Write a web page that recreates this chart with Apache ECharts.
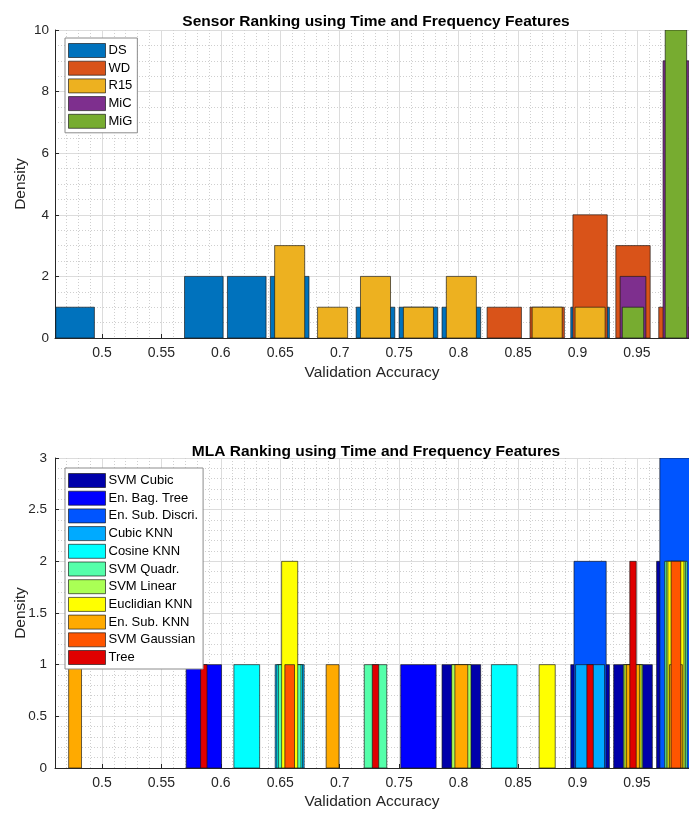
<!DOCTYPE html>
<html>
<head>
<meta charset="utf-8">
<script src="https://cdn.jsdelivr.net/npm/echarts@6/dist/echarts.min.js"></script>
<style>
html,body{margin:0;padding:0;background:#fff;}
#chart{width:689px;height:814px;}
</style>
</head>
<body>
<div id="chart"></div>
<script>
// ---- shared histogram bins (bin centres) ----
const binCenters = [0.4774, 0.5135, 0.5496, 0.5857, 0.6218, 0.6579, 0.6940, 0.7301, 0.7662, 0.8023, 0.8384, 0.8745, 0.9106, 0.9467, 0.9828];
const binWidth = 0.0361;

// ---- top chart: sensors ----
const topTitle = 'Sensor Ranking using Time and Frequency Features';
const sensorNames = ['DS', 'WD', 'R15', 'MiC', 'MiG'];
const dsCounts  = [1,0,0,2,2,2,0,1,1,1,0,0,1,0,0];
const wdCounts  = [0,0,0,0,0,0,0,0,0,0,1,1,4,3,1];
const r15Counts = [0,0,0,0,0,3,1,2,1,2,0,1,1,0,0];
const micCounts = [0,0,0,0,0,0,0,0,0,0,0,0,0,2,9];
const migCounts = [0,0,0,0,0,0,0,0,0,0,0,0,0,1,10];
const topYTicks = [0, 2, 4, 6, 8, 10];

// ---- bottom chart: machine learning algorithms ----
const bottomTitle = 'MLA Ranking using Time and Frequency Features';
const algoNames = ['SVM Cubic', 'En. Bag. Tree', 'En. Sub. Discri.', 'Cubic KNN', 'Cosine KNN', 'SVM Quadr.', 'SVM Linear', 'Euclidian KNN', 'En. Sub. KNN', 'SVM Gaussian', 'Tree'];
const svmCubicCounts     = [0,0,0,0,0,0,0,0,0,1,0,0,1,1,2];
const enBagTreeCounts    = [0,0,0,1,0,0,0,0,1,0,0,0,0,0,0];
const enSubDiscriCounts  = [0,0,0,0,0,0,0,0,0,0,0,0,2,0,3];
const cubicKnnCounts     = [0,0,0,0,0,1,0,0,0,0,0,0,1,0,0];
const cosineKnnCounts    = [0,0,0,0,1,1,0,0,0,0,1,0,0,0,0];
const svmQuadrCounts     = [0,0,0,0,0,1,0,1,0,0,0,0,0,0,2];
const svmLinearCounts    = [0,0,0,0,0,0,0,0,0,1,0,0,0,1,2];
const euclidianKnnCounts = [0,0,0,0,0,2,0,0,0,0,0,1,0,1,2];
const enSubKnnCounts     = [1,0,0,0,0,0,1,0,0,1,0,0,0,1,1];
const svmGaussianCounts  = [0,0,0,0,0,1,0,0,0,0,0,0,0,0,2];
const treeCounts         = [0,0,0,1,0,0,0,1,0,0,0,0,1,2,0];
const bottomYTicks = [0, 0.5, 1, 1.5, 2, 2.5, 3];

const xTickLabels = [0.5, 0.55, 0.6, 0.65, 0.7, 0.75, 0.8, 0.85, 0.9, 0.95];

// ---- styling ----
const sensorColors = ['#0072BD', '#D95319', '#EDB120', '#7E2F8E', '#77AC30'];
const algoColors = ['#0000AA', '#0000FF', '#0055FF', '#00AAFF', '#00FFFF', '#55FFAA', '#AAFF55', '#FFFF00', '#FFAA00', '#FF5500', '#E00000'];
const EDGE = 'rgba(20,20,20,0.65)';
const FONT = '"Liberation Sans", Arial, Helvetica, sans-serif';
const AX = '#262626';

function barSeries(name, color, counts, frac, idx) {
  const data = [];
  counts.forEach((c, i) => { if (c > 0) data.push([binCenters[i], c]); });
  return {
    type: 'custom', name: name, xAxisIndex: idx, yAxisIndex: idx,
    data: data, clip: true, encode: { x: 0, y: 1 },
    itemStyle: { color: color, borderColor: EDGE, borderWidth: 1 },
    renderItem: function (params, api) {
      const x = api.value(0), h = api.value(1);
      const half = frac * binWidth / 2;
      const p0 = api.coord([x - half, h]);
      const p1 = api.coord([x + half, 0]);
      return {
        type: 'rect',
        shape: { x: p0[0], y: p0[1], width: p1[0] - p0[0], height: p1[1] - p0[1] },
        style: { fill: color, stroke: EDGE, lineWidth: 1 }
      };
    }
  };
}

const sensorCounts = [dsCounts, wdCounts, r15Counts, micCounts, migCounts];
const algoCounts = [svmCubicCounts, enBagTreeCounts, enSubDiscriCounts, cubicKnnCounts, cosineKnnCounts, svmQuadrCounts, svmLinearCounts, euclidianKnnCounts, enSubKnnCounts, svmGaussianCounts, treeCounts];

const series = [];
sensorNames.forEach((n, i) => series.push(barSeries(n, sensorColors[i], sensorCounts[i], 0.9 - 0.1 * i, 0)));
algoNames.forEach((n, i) => series.push(barSeries(n, algoColors[i], algoCounts[i], 0.9 - 0.075 * i, 1)));

function xAxisCfg(gridIndex, nameGap) {
  return {
    type: 'value', gridIndex: gridIndex, min: 0.4605, max: 0.9938,
    splitNumber: 10, minInterval: 0.05, maxInterval: 0.05,
    name: 'Validation Accuracy', nameLocation: 'middle', nameGap: nameGap,
    nameTextStyle: { fontFamily: FONT, fontSize: 15.5, color: AX },
    axisLine: { show: true, onZero: false, lineStyle: { color: AX, width: 1 } },
    axisTick: { show: true, inside: true, length: 4, lineStyle: { color: AX } },
    axisLabel: {
      showMinLabel: false, showMaxLabel: false, margin: 8,
      fontFamily: FONT, fontSize: 14, color: AX,
      formatter: function (v) {
        const r = Math.round(v * 100) / 100;
        return xTickLabels.indexOf(r) >= 0 ? String(r) : '';
      }
    },
    splitLine: { show: true, lineStyle: { color: '#dcdcdc', width: 1 } },
    minorTick: { show: false, splitNumber: 5 },
    minorSplitLine: { show: true, lineStyle: { color: '#cfcfcf', width: 1, type: [1, 2] } }
  };
}
function yAxisCfg(gridIndex, ticks, minorSplit, margin) {
  return {
    type: 'value', gridIndex: gridIndex, min: ticks[0], max: ticks[ticks.length - 1],
    interval: ticks[1] - ticks[0],
    name: 'Density', nameLocation: 'middle', nameGap: 26, nameMoveOverlap: false,
    nameTextStyle: { fontFamily: FONT, fontSize: 15.5, color: AX },
    axisLine: { show: true, lineStyle: { color: AX, width: 1 } },
    axisTick: { show: true, inside: true, length: 4, lineStyle: { color: AX } },
    axisLabel: { margin: margin, fontFamily: FONT, fontSize: 13.5, color: AX },
    splitLine: { show: true, lineStyle: { color: '#dcdcdc', width: 1 } },
    minorTick: { show: false, splitNumber: minorSplit },
    minorSplitLine: { show: true, lineStyle: { color: '#cfcfcf', width: 1, type: [1, 2] } }
  };
}

function legendCfg(names, top) {
  return {
    data: names, orient: 'vertical', left: 65, top: top,
    icon: 'rect', itemWidth: 37, itemHeight: 14, itemGap: 2.7,
    selectedMode: false, backgroundColor: '#ffffff',
    borderColor: '#8c8c8c', borderWidth: 1, padding: [5, 5, 4, 3],
    textStyle: { fontFamily: FONT, fontSize: 13, color: '#000', padding: [0, 0, 0, -2] },
    itemStyle: { borderColor: EDGE, borderWidth: 1 },
    z: 10
  };
}

const option = {
  animation: false,
  backgroundColor: '#ffffff',
  title: [
    { text: topTitle, left: 371, top: 9, textAlign: 'center',
      textStyle: { fontFamily: FONT, fontSize: 15.5, fontWeight: 'bold', color: '#000' } },
    { text: bottomTitle, left: 371, top: 439, textAlign: 'center',
      textStyle: { fontFamily: FONT, fontSize: 15.5, fontWeight: 'bold', color: '#000' } }
  ],
  legend: [legendCfg(sensorNames, 38), legendCfg(algoNames, 468)],
  grid: [
    { left: 55, top: 30, width: 634, height: 308, outerBoundsMode: 'none', containLabel: false },
    { left: 55, top: 458, width: 634, height: 310, outerBoundsMode: 'none', containLabel: false }
  ],
  xAxis: [xAxisCfg(0, 27), xAxisCfg(1, 26)],
  yAxis: [yAxisCfg(0, topYTicks, 4, 6), yAxisCfg(1, bottomYTicks, 5, 8)],
  series: series
};

const chart = echarts.init(document.getElementById('chart'), null, { renderer: 'canvas' });
chart.setOption(option);
</script>
</body>
</html>
